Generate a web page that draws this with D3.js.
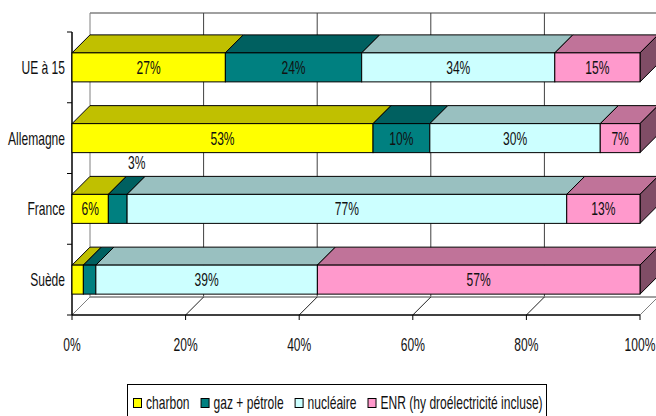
<!DOCTYPE html>
<html><head><meta charset="utf-8">
<script src="https://cdn.jsdelivr.net/npm/d3@7"></script>
<style>
html,body{margin:0;padding:0;background:#fff;overflow:hidden}
text{font-family:"Liberation Sans",Arial,sans-serif;fill:#111;font-size:18px}
</style></head>
<body>
<svg id="c" width="656" height="416"></svg>
<script>
const categories = ["UE à 15", "Allemagne", "France", "Suède"];
const seriesNames = ["charbon", "gaz + pétrole", "nucléaire", "ENR (hy droélectricité incluse)"];
const charbon   = [27, 53, 6.4, 2];
const gazPetrole = [24, 10, 3.3, 2.2];
const nucleaire = [34, 30, 77.4, 39];
const enr       = [15, 7, 12.9, 56.8];
const xTicks = [0, 20, 40, 60, 80, 100];
const xTickLabels = ["0%", "20%", "40%", "60%", "80%", "100%"];

const frontColors = ["#FFFF00", "#008080", "#CCFFFF", "#FF99CC"];
const topColors   = ["#C0C000", "#006060", "#99C0C0", "#C07399"];
const sideColors  = ["#808000", "#004040", "#668080", "#804D66"];

const seriesVals = [charbon, gazPetrole, nucleaire, enr];
const svg = d3.select("#c");
const DX = 18, DY = -18;
const SX = 0.67;
const x = d3.scaleLinear().domain([0, 100]).range([72, 640]);
const y = d3.scaleBand().domain(categories).range([32, 315]).padding(0);
const barH = 29;
const floorY = 315;
const wallTop = 13;

function addText(parent, tx, ty, str, anchor) {
  const gg = parent.append("g").attr("transform", `translate(${tx},${ty}) scale(${SX},1)`);
  return gg.append("text").attr("x", 0).attr("y", 0).attr("text-anchor", anchor || "middle")
    .attr("dominant-baseline", "central").text(str);
}

// back wall & gridlines
const g = svg.append("g");
g.append("line").attr("x1", x(0)+DX).attr("x2", 660).attr("y1", wallTop).attr("y2", wallTop)
  .attr("stroke", "#808080").attr("stroke-width", 1.5);
xTicks.forEach(t => {
  g.append("line").attr("x1", x(t)+DX).attr("x2", x(t)+DX).attr("y1", wallTop).attr("y2", floorY+DY)
    .attr("stroke", t===0 ? "#808080" : "#404040").attr("stroke-width", 1);
});
// floor
g.append("line").attr("x1", x(0)+DX).attr("x2", x(100)+DX).attr("y1", floorY+DY).attr("y2", floorY+DY)
  .attr("stroke", "#808080").attr("stroke-width", 1.5);
xTicks.forEach(t => {
  g.append("line").attr("x1", x(t)).attr("x2", x(t)+DX).attr("y1", floorY).attr("y2", floorY+DY)
    .attr("stroke", (t===0||t===100) ? "#808080" : "#202020").attr("stroke-width", 1);
});
// front x axis
g.append("line").attr("x1", x(0)).attr("x2", x(100)).attr("y1", floorY).attr("y2", floorY)
  .attr("stroke", "#000").attr("stroke-width", 1.5);
xTicks.forEach((t,i) => {
  g.append("line").attr("x1", x(t)).attr("x2", x(t)).attr("y1", floorY).attr("y2", floorY+5)
    .attr("stroke", "#000");
  addText(g, x(t), 345, xTickLabels[i], "middle");
});
// y axis
g.append("line").attr("x1", x(0)).attr("x2", x(0)).attr("y1", 32).attr("y2", floorY)
  .attr("stroke", "#000").attr("stroke-width", 1.5);
const bounds = categories.map(c => y(c)).concat([floorY]);
bounds.forEach(b => {
  g.append("line").attr("x1", x(0)-5).attr("x2", x(0)).attr("y1", b).attr("y2", b).attr("stroke", "#000");
});
categories.forEach(c => {
  addText(g, 65, y(c)+y.bandwidth()/2, c, "end");
});

// bars
const bars = svg.append("g");
categories.forEach((c, ci) => {
  const yc = y(c) + y.bandwidth()/2;
  const y0 = yc - barH/2, y1 = yc + barH/2;
  let cum = 0;
  const segs = seriesVals.map((arr, si) => {
    const s = {si, v: arr[ci], a: cum, b: cum + arr[ci]};
    cum += arr[ci];
    return s;
  });
  segs.forEach(s => {
    const xa = x(s.a), xb = x(s.b);
    bars.append("path")
      .attr("d", `M${xa},${y0}L${xb},${y0}L${xb+DX},${y0+DY}L${xa+DX},${y0+DY}Z`)
      .attr("fill", topColors[s.si]).attr("stroke", "#000").attr("stroke-width", 1).attr("stroke-linejoin", "round");
  });
  const last = segs[segs.length-1];
  const xe = x(last.b);
  bars.append("path")
    .attr("d", `M${xe},${y0}L${xe+DX},${y0+DY}L${xe+DX},${y1+DY}L${xe},${y1}Z`)
    .attr("fill", sideColors[last.si]).attr("stroke", "#000").attr("stroke-width", 1).attr("stroke-linejoin", "round");
  segs.forEach(s => {
    const xa = x(s.a), xb = x(s.b);
    bars.append("rect").attr("x", xa).attr("y", y0).attr("width", xb - xa).attr("height", barH)
      .attr("fill", frontColors[s.si]).attr("stroke", "#000").attr("stroke-width", 1);
  });
  segs.forEach(s => {
    if (s.v < 3) return;
    const xm = (x(s.a) + x(s.b)) / 2;
    const small = s.v < 5;
    addText(bars, small ? xm + DX + 1 : xm, small ? y0 + DY - 14 : yc, Math.round(s.v) + "%", "middle");
  });
});

// legend
const lg = svg.append("g");
lg.append("rect").attr("x", 127.5).attr("y", 384.5).attr("width", 419).attr("height", 40)
  .attr("fill", "#fff").attr("stroke", "#000").attr("stroke-width", 1);
let lx = 133;
seriesNames.forEach((n, i) => {
  lg.append("rect").attr("x", lx + 0.5).attr("y", 398.5).attr("width", 8).attr("height", 9)
    .attr("fill", frontColors[i]).attr("stroke", "#000").attr("stroke-width", 1);
  const t = addText(lg, lx + 13, 403, n, "start");
  lx += 13 + t.node().getComputedTextLength() * SX + 11;
});
</script>
</body></html>
